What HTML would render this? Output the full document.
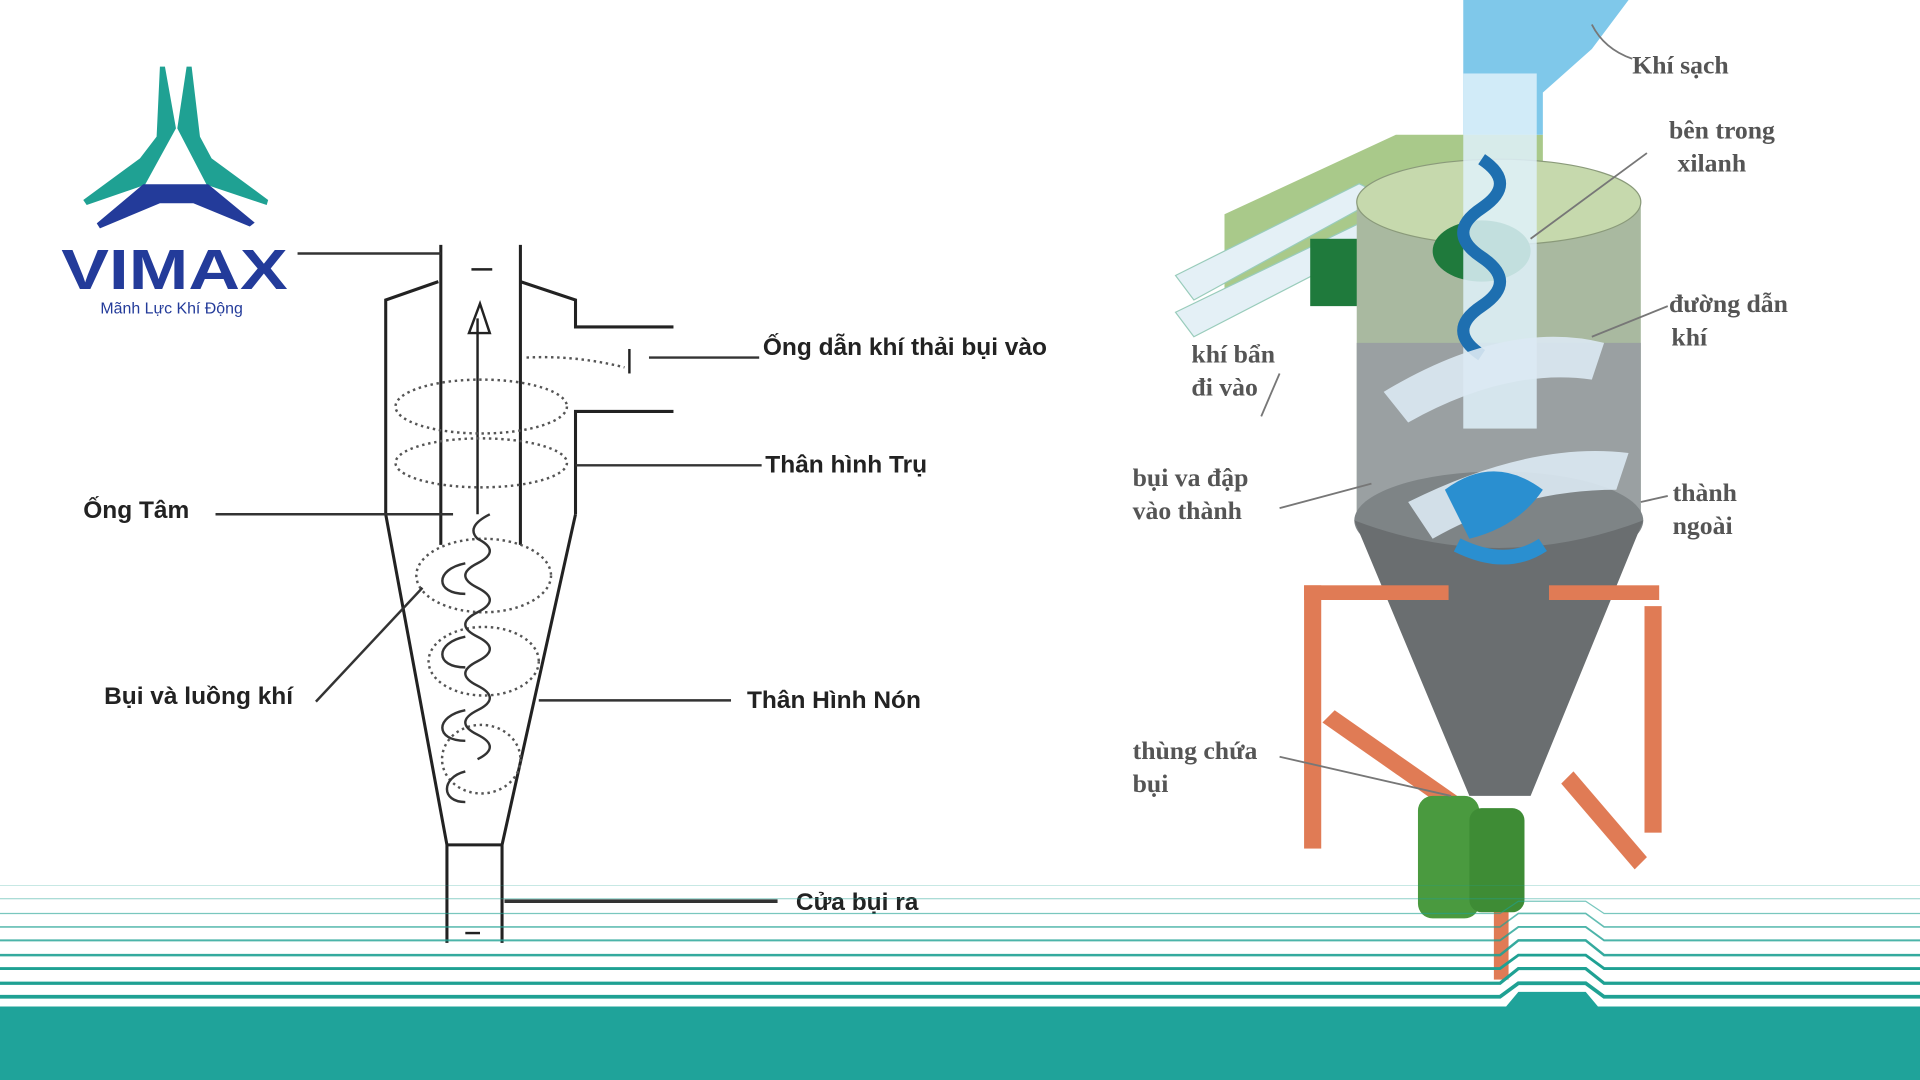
<!DOCTYPE html>
<html><head><meta charset="utf-8"><style>
html,body{margin:0;padding:0;background:#fff;width:1920px;height:1080px;overflow:hidden}
svg{display:block}
.b{font-family:"Liberation Sans",sans-serif;font-weight:bold;font-size:20px;fill:#222}
.s{font-family:"Liberation Serif",serif;font-weight:bold;font-size:21px;fill:#555}
</style></head><body>
<svg width="1920" height="1080" viewBox="0 0 1568 882" xmlns="http://www.w3.org/2000/svg">
<rect width="1568" height="882" fill="#fff"/>
<!-- LEFT cyclone -->
<g fill="none" stroke="#222" stroke-width="2.5">
<path d="M315 420 L315 245 L358 230"/>
<path d="M425 230 L470 245 L470 267 L550 267"/>
<path d="M470 420 L470 336 L550 336"/>
<path d="M315 420 L365 690 L365 770"/>
<path d="M470 420 L410 690 L410 770"/>
<line x1="365" y1="690" x2="410" y2="690"/>
<line x1="360" y1="200" x2="360" y2="445"/>
<line x1="425" y1="200" x2="425" y2="445"/>
<line x1="390" y1="420" x2="390" y2="260" stroke-width="2"/>
<path d="M383 272 L392 248 L400 272 Z" stroke-width="2"/>
<line x1="385" y1="220" x2="402" y2="220" stroke-width="2"/>
<line x1="380" y1="762" x2="392" y2="762" stroke-width="2"/>
<path d="M514 285 L514 305" stroke-width="2"/>
</g>
<g fill="none" stroke="#555" stroke-width="2" stroke-dasharray="2 3">
<ellipse cx="393" cy="332" rx="70" ry="22"/>
<ellipse cx="393" cy="378" rx="70" ry="20"/>
<ellipse cx="395" cy="470" rx="55" ry="30"/>
<ellipse cx="395" cy="540" rx="45" ry="28"/>
<ellipse cx="393" cy="620" rx="32" ry="28"/>
<path d="M430 292 Q470 290 510 300"/>
</g>
<g fill="none" stroke="#333" stroke-width="2">
<path d="M400 420 q-20 10 -10 20 q20 10 0 20 q-20 10 0 20 q20 10 0 20 q-20 10 0 20 q20 10 0 20 q-20 10 0 20 q20 10 0 20 q-20 10 0 20 q20 10 0 20"/>
<path d="M380 460 c-25 5 -25 25 0 25 M380 520 c-25 5 -25 25 0 25 M380 580 c-25 5 -25 25 0 25 M380 630 c-20 5 -20 25 0 25"/>
</g>
<g stroke="#333" stroke-width="2">
<line x1="230" y1="207" x2="360" y2="207"/>
<line x1="530" y1="292" x2="620" y2="292"/>
<line x1="470" y1="380" x2="622" y2="380"/>
<line x1="176" y1="420" x2="370" y2="420"/>
<line x1="258" y1="573" x2="345" y2="480"/>
<line x1="440" y1="572" x2="597" y2="572"/>
<line x1="412" y1="736" x2="635" y2="736" stroke-width="3"/>
</g>
<text class="b" x="623" y="290">Ống dẫn khí thải bụi vào</text>
<text class="b" x="625" y="386">Thân hình Trụ</text>
<text class="b" x="68" y="423">Ống Tâm</text>
<text class="b" x="85" y="575">Bụi và luồng khí</text>
<text class="b" x="610" y="578">Thân Hình Nón</text>
<text class="b" x="650" y="743">Cửa bụi ra</text>
<text class="b" x="32" y="210" fill="#444">Ống dẫn khí</text>

<!-- LOGO -->
<rect x="28" y="190" width="215" height="30" fill="#fff"/>
<polygon points="130.6,54.4 134.7,54.4 143.7,104.8 118.4,151 70.8,167.4 68,163.3 114.3,129.3 127.9,111.6" fill="#1fa193"/>
<polygon points="152.4,54.4 156.5,54.4 163.3,111.6 172.8,129.3 219,163.3 217.8,167.4 168.8,151 144.8,104.8" fill="#1fa193"/>
<polygon points="117,150.5 170,150.5 208,181.8 204,185 157.9,166 130.6,166 81.6,186.5 79,182.4" fill="#233b9a"/>
<text x="50" y="236" font-family="Liberation Sans,sans-serif" font-weight="bold" font-size="46" fill="#233b9a" textLength="185" lengthAdjust="spacingAndGlyphs">VIMAX</text>
<text x="82" y="256" font-family="Liberation Sans,sans-serif" font-size="13" fill="#233b9a">Mãnh Lực Khí Động</text>

<!-- RIGHT cyclone -->
<g>
<path d="M1000 175 L1140 110 L1260 110 L1260 215 L1080 215 L1000 245 Z" fill="#a9c98a"/>
<path d="M960 225 L1110 150 L1130 160 L975 245 Z M960 255 L1115 180 L1130 195 L975 275 Z" fill="#e4f0f6" stroke="#9cb" />
<rect x="1070" y="195" width="42" height="55" fill="#1f7a3c"/>
<rect x="1108" y="165" width="232" height="265" fill="#a9b9a0"/>
<rect x="1108" y="280" width="232" height="150" fill="#9aa0a2"/>
<ellipse cx="1224" cy="165" rx="116" ry="35" fill="#c6d9ad" stroke="#8a9a7a"/>
<ellipse cx="1210" cy="205" rx="40" ry="25" fill="#1f7a3c"/>
<ellipse cx="1224" cy="425" rx="118" ry="40" fill="#7e8486"/>
<path d="M1106 425 L1200 650 L1250 650 L1342 425 Q1224 470 1106 425 Z" fill="#6a6e70"/>
<path d="M1195 0 L1260 0 L1260 110 L1195 110 Z M1250 0 L1330 0 L1300 40 L1255 80 Z" fill="#7fc8ea"/>
<rect x="1195" y="60" width="60" height="290" fill="#dff1fa" opacity=".85"/>
<path d="M1210 130 q30 20 0 40 q-30 20 0 40 q30 20 0 40 q-30 20 0 40" fill="none" stroke="#1e6fb0" stroke-width="10"/>
<path d="M1130 320 Q1230 260 1310 280 L1300 310 Q1230 300 1150 345 Z" fill="#dbe9f3" opacity=".9"/>
<path d="M1150 410 Q1250 360 1330 370 L1320 400 Q1240 400 1170 440 Z" fill="#dbe9f3" opacity=".9"/>
<path d="M1180 400 q40 -30 80 0 q-20 30 -60 40 Z" fill="#2a8fd0"/>
<path d="M1190 445 q40 20 70 0" fill="none" stroke="#2a8fd0" stroke-width="12"/>
<g fill="#e07b55">
<rect x="1065" y="478" width="14" height="215"/>
<rect x="1343" y="495" width="14" height="185"/>
<rect x="1065" y="478" width="118" height="12"/>
<rect x="1265" y="478" width="90" height="12"/>
<rect x="1220" y="705" width="12" height="95"/>
<polygon points="1080,590 1090,580 1190,650 1180,660"/>
<polygon points="1275,640 1285,630 1345,700 1335,710"/>
</g>
<rect x="1158" y="650" width="50" height="100" rx="12" fill="#4a9a3f"/>
<rect x="1200" y="660" width="45" height="85" rx="10" fill="#3e8c35"/>
</g>
<g stroke="#777" stroke-width="1.5" fill="none">
<path d="M1300 20 Q1310 40 1333 48"/>
<line x1="1250" y1="195" x2="1345" y2="125"/>
<line x1="1300" y1="275" x2="1362" y2="250"/>
<line x1="1030" y1="340" x2="1045" y2="305"/>
<line x1="1045" y1="415" x2="1120" y2="395"/>
<line x1="1340" y1="410" x2="1362" y2="405"/>
<line x1="1045" y1="618" x2="1185" y2="650"/>
</g>
<text class="s" x="1333" y="60">Khí sạch</text>
<text class="s" x="1363" y="113">bên trong</text>
<text class="s" x="1370" y="140">xilanh</text>
<text class="s" x="1363" y="255">đường dẫn</text>
<text class="s" x="1365" y="282">khí</text>
<text class="s" x="973" y="296">khí bẩn</text>
<text class="s" x="973" y="323">đi vào</text>
<text class="s" x="925" y="397">bụi va đập</text>
<text class="s" x="925" y="424">vào thành</text>
<text class="s" x="1366" y="409">thành</text>
<text class="s" x="1366" y="436">ngoài</text>
<text class="s" x="925" y="620">thùng chứa</text>
<text class="s" x="925" y="647">bụi</text>

<!-- bottom lines -->
<g fill="none" stroke="#1fa193">
<path d="M0 723 H1568" stroke-width="0.6" opacity=".4"/>
<path d="M0 734 H1568" stroke-width="0.8" opacity=".5"/>
<path d="M0 746 H1225 L1240 736 H1295 L1310 746 H1568" stroke-width="1" opacity=".6"/>
<path d="M0 757 H1225 L1240 746 H1295 L1310 757 H1568" stroke-width="1.3" opacity=".7"/>
<path d="M0 768 H1225 L1240 757 H1295 L1310 768 H1568" stroke-width="1.6" opacity=".8"/>
<path d="M0 780 H1225 L1240 768 H1295 L1310 780 H1568" stroke-width="2" opacity=".9"/>
<path d="M0 791 H1225 L1240 780 H1295 L1310 791 H1568" stroke-width="2.3"/>
<path d="M0 803 H1225 L1240 791 H1295 L1310 803 H1568" stroke-width="2.6"/>
<path d="M0 814 H1225 L1240 803 H1295 L1310 814 H1568" stroke-width="3"/>
</g>
<path d="M0 822 H1230 L1240 810 H1295 L1305 822 H1568 V882 H0 Z" fill="#1fa39a"/>
</svg>
</body></html>
